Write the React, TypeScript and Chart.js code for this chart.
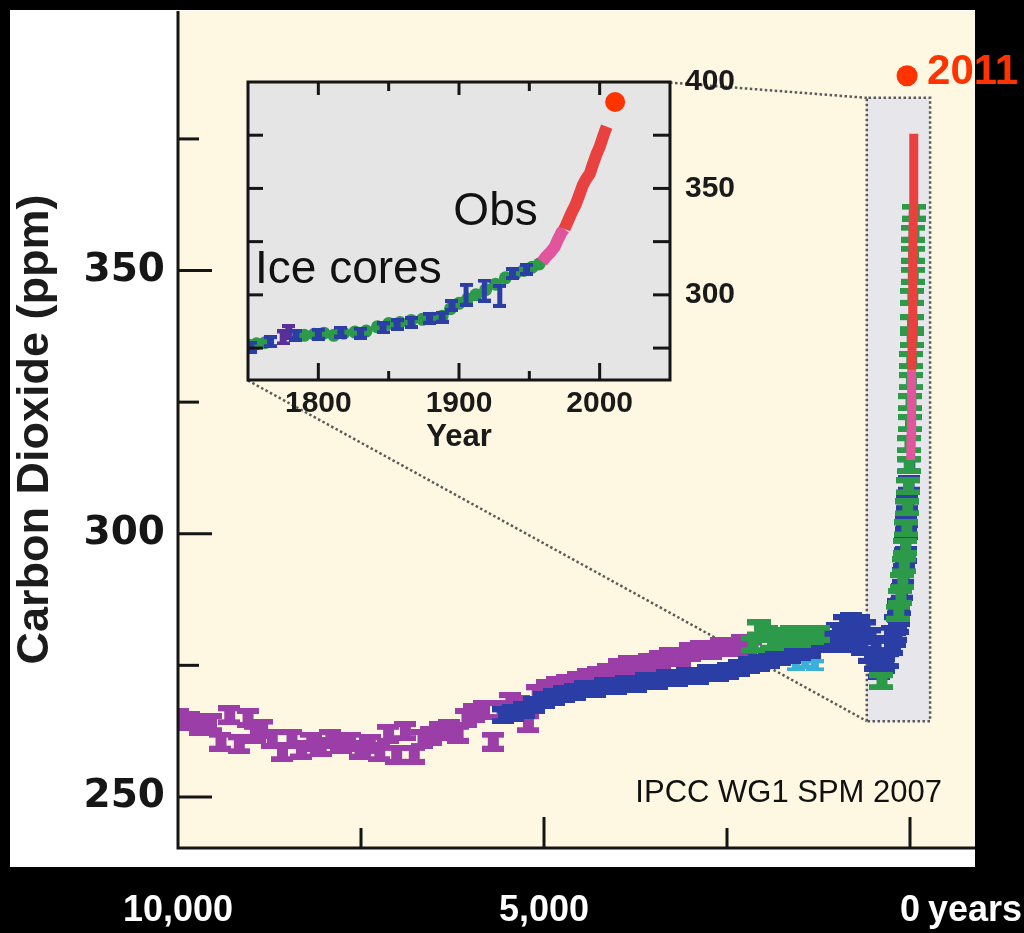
import React, { useEffect, useRef } from 'react';
import { Chart, registerables } from 'chart.js';

Chart.register(...registerables);

const SANS = "'Liberation Sans', Arial, Helvetica, sans-serif";
const HEAVY = "'DejaVu Sans', 'Liberation Sans', sans-serif";

const CREAM = '#fef7e1';
const INSET_BG = '#e5e5e6';
const BOX_BG = '#e7e7eb';
const PURPLE = '#9c3ea8';
const BLUE = '#2a3ea6';
const GREEN = '#2c9a48';
const CYAN = '#3ab0d8';
const RED = '#e8413f';
const PINK = '#e0559b';
const DOT = '#ff3300';
const DOTTED = '#5a5a5a';

// ---------------- main chart: x = years before present, y = CO2 (ppm)
const MAIN_X_MIN = -888;
const MAIN_X_MAX = 10000;
const MAIN_Y_MIN = 240.3;
const MAIN_Y_MAX = 399.3;
const MAIN_X_TICKS = [10000, 7500, 5000, 2500, 0];
const MAIN_X_TICK_TEXT = ['10,000', '', '5,000', '', '0'];
const MAIN_Y_TICKS = [250, 275, 300, 325, 350, 375];
const MAIN_Y_TICK_TEXT = ['250', '', '300', '', '350', ''];

const PURPLE_BP = [10000, 9850, 9700, 9550, 9420, 9300, 9170, 9050, 8950, 8850, 8720, 8580, 8450, 8320, 8180, 8050, 7920, 7780, 7650, 7520, 7380, 7250, 7130, 7020, 6900, 6780, 6660, 6540, 6420, 6300, 6180, 6060, 5950, 5820, 5700, 5580, 5460, 5340, 5220, 5100, 4960, 4820, 4680, 4540, 4400, 4260, 4120, 3980, 3840, 3700, 3560, 3420, 3280, 3140, 3000, 2860, 2720, 2580, 2440, 2300, 2170];
const PURPLE_PPM = [265, 264.5, 263.5, 264, 260.5, 265.5, 260, 265, 262, 263, 261, 258.5, 261, 259, 260.5, 259.5, 261, 260, 260.5, 259, 260, 258.5, 262, 258, 262.5, 258, 261, 261.5, 262.5, 263, 262, 265, 266, 266.5, 260.5, 266.5, 268, 267.5, 264, 269.5, 270.5, 271, 271.5, 272, 272.5, 273, 273.5, 274.5, 275, 275, 275.5, 276, 276.5, 276.5, 277.5, 278, 278, 278.5, 278.5, 279, 278];

const BLUE_BP = [5560, 5420, 5280, 5140, 5000, 4860, 4720, 4580, 4440, 4300, 4160, 4020, 3880, 3740, 3600, 3460, 3320, 3180, 3040, 2900, 2760, 2620, 2480, 2340, 2200, 2060, 1920, 1780, 1640, 1500, 1360, 1220, 1100, 1000, 900, 800, 700, 620, 540, 470, 410, 350, 300, 250, 210, 190, 170, 150, 130, 110, 95, 80, 65, 50, 35, 20, 10];
const BLUE_PPM = [265.5, 266, 266.5, 267.5, 268.5, 269, 269.5, 270, 270.5, 270.5, 271, 271, 271.5, 271.5, 272, 272, 272.5, 272.5, 273, 273, 273.5, 273.5, 274, 274.5, 275, 275.5, 276, 276.5, 277, 277.5, 278, 279, 280, 281.5, 283, 283.5, 283, 282, 280.5, 279, 276, 275, 276, 278.5, 280, 281, 282.5, 284, 286, 289, 292, 295, 298, 302, 306, 309.5, 313];
// second blue core (overlapping the first in the last millennium)
const BLUE2_BP = [1050, 950, 850, 750, 650, 560, 480, 430, 380, 330, 280, 240, 200, 160, 120, 90, 60, 40, 25];
const BLUE2_PPM = [279.5, 279, 280, 279.5, 278.5, 277, 275.5, 274, 274.5, 276, 279, 281, 283, 286, 288.5, 291.5, 296, 300.5, 305];

const GREEN_BP = [2150, 2060, 1970, 1880, 1790, 1700, 1610, 1520, 1430, 1340, 1250, 390, 160, 130, 105, 85, 65, 50, 38, 28, 18, 8, 0, -6, -12, -17, -22, -27, -32, -37, -42, -47, -52];
const GREEN_PPM = [279, 282, 281, 279.5, 280.5, 280, 281, 280, 281, 280.5, 281, 272, 285, 288, 291, 294, 297.5, 301, 305, 309, 313, 317, 321, 325, 329, 333, 337, 340, 345, 349, 353, 357, 361];

const CYAN_BP = [1560, 1430, 1300];
const CYAN_PPM = [275, 275.5, 275];

// atmospheric record as drawn in the main panel
const MAIN_OBS_BP = [-9, -15, -20, -25, -30, -35, -40, -45, -50, -53];
const MAIN_OBS_PPM = [314, 319, 325, 331, 338, 345.5, 353, 360.5, 368, 376];

// zoom box and connector lines (main-chart units)
const BOX_BP = [590, 590, -275, -275, 590];
const BOX_PPM = [264.4, 382.8, 382.8, 264.4, 264.4];
const LINK_TOP_BP = [3278, 590];
const LINK_TOP_PPM = [385.7, 382.8];
const LINK_BOTTOM_BP = [9044, 590];
const LINK_BOTTOM_PPM = [329.1, 264.4];

const MAIN_DOT_BP = [40];
const MAIN_DOT_PPM = [387];
const MAIN_DOT_TEXT = '2011';

// ---------------- inset chart: x = year AD, y = CO2 (ppm)
const INSET_X_MIN = 1750;
const INSET_X_MAX = 2050;
const INSET_Y_MIN = 260;
const INSET_Y_MAX = 400;
const INSET_X_TICKS = [1800, 1850, 1900, 1950, 2000];
const INSET_X_TICK_TEXT = ['1800', '', '1900', '', '2000'];
const INSET_Y_TICKS = [275, 300, 325, 350, 375, 400];
const INSET_Y_TICK_TEXT = ['', '300', '', '350', '', '400'];

const INSET_GREEN_YEAR = [1750, 1756, 1762, 1790, 1797, 1804, 1811, 1818, 1826, 1834, 1842, 1850, 1858, 1866, 1874, 1881, 1888, 1894, 1900, 1906, 1912, 1919, 1926, 1933, 1940, 1946, 1952, 1957];
const INSET_GREEN_PPM = [276.5, 277, 277.5, 281, 281.5, 282, 281, 282, 282.5, 283, 285, 286.5, 287, 288, 288.5, 289, 290, 293.5, 296, 298, 300, 302.5, 305, 308, 310, 311.5, 313, 314.5];
const INSET_BLUE_YEAR = [1752, 1766, 1784, 1800, 1816, 1830, 1846, 1856, 1866, 1879, 1888, 1895, 1938, 1948];
const INSET_BLUE_PPM = [275.5, 278, 281, 281.5, 282.5, 282, 284.5, 286, 287, 289, 289.5, 295, 310, 312];
const INSET_BLUE_BAR_YEAR = [1905, 1918, 1929];
const INSET_BLUE_BAR_PPM = [300, 302, 299.5];
const INSET_PURPLE_YEAR = [1775, 1779];
const INSET_PURPLE_PPM = [280, 282.5];

const OBS_YEAR = [1959, 1962, 1965, 1968, 1970, 1973, 1975, 1978, 1980, 1983, 1985, 1988, 1990, 1993, 1995, 1998, 2000, 2003, 2005];
const OBS_PPM = [315.5, 318, 320, 322.5, 325.5, 329.5, 331, 335.5, 338.5, 342.5, 346, 351.5, 354, 357, 361, 366.5, 369.5, 375.5, 379];
const OBS_PINK_BELOW = 332;

const INSET_DOT_YEAR = [2011];
const INSET_DOT_PPM = [390.6];

const ICE_LABEL = { text: 'Ice cores', year: 1755, ppm: 305.6 };
const OBS_LABEL = { text: 'Obs', year: 1896, ppm: 332.9 };
const CAPTION = 'IPCC WG1 SPM 2007';

const pts = (xs: number[], ys: number[]) => xs.map((x, i) => ({ x, y: ys[i] }));

function iMarker(color: string, w: number, h: number, stem: number, cap: number): HTMLCanvasElement {
  const c = document.createElement('canvas');
  c.width = w;
  c.height = h;
  const g = c.getContext('2d')!;
  g.fillStyle = color;
  g.fillRect(0, 0, w, cap);
  g.fillRect(0, h - cap, w, cap);
  g.fillRect(Math.round((w - stem) / 2), 0, stem, h);
  return c;
}

function tickLine(ctx: CanvasRenderingContext2D, x1: number, y1: number, x2: number, y2: number) {
  ctx.beginPath();
  ctx.moveTo(x1, y1);
  ctx.lineTo(x2, y2);
  ctx.stroke();
}

export default function App() {
  const mainRef = useRef<HTMLCanvasElement | null>(null);
  const insetRef = useRef<HTMLCanvasElement | null>(null);

  useEffect(() => {
    const X_LABEL_PAD = 41;
    const X_LABEL_SIZE = 36;

    const mainDecor = {
      id: 'mainDecor',
      beforeDraw(chart: any) {
        const { ctx, chartArea: a } = chart;
        ctx.save();
        ctx.fillStyle = '#000';
        ctx.fillRect(0, 0, chart.width, chart.height);
        ctx.fillStyle = '#ffffff';
        ctx.fillRect(10, 10, a.right - 10, a.bottom + 19 - 10);
        ctx.fillStyle = CREAM;
        ctx.fillRect(a.left, a.top, a.right - a.left, a.bottom - a.top);
        ctx.restore();
      },
      afterDatasetsDraw(chart: any) {
        const { ctx, chartArea: a } = chart;
        const xs = chart.scales.x;
        const ys = chart.scales.y;
        ctx.save();
        ctx.strokeStyle = '#151515';
        ctx.lineWidth = 3;
        ctx.beginPath();
        ctx.moveTo(a.left, a.top);
        ctx.lineTo(a.left, a.bottom);
        ctx.lineTo(a.right, a.bottom);
        ctx.stroke();
        MAIN_Y_TICKS.forEach((v, i) => {
          const py = ys.getPixelForValue(v);
          tickLine(ctx, a.left, py, a.left + (MAIN_Y_TICK_TEXT[i] ? 34 : 21), py);
        });
        MAIN_X_TICKS.forEach((v, i) => {
          if (v === MAIN_X_MAX) return;
          const px = xs.getPixelForValue(v);
          tickLine(ctx, px, a.bottom, px, a.bottom - (MAIN_X_TICK_TEXT[i] ? 31 : 20));
        });
        // "years" after the 0 label
        ctx.fillStyle = '#ffffff';
        ctx.font = `bold ${X_LABEL_SIZE}px ${SANS}`;
        ctx.textBaseline = 'middle';
        ctx.textAlign = 'left';
        const zx = xs.getPixelForValue(0);
        const zw = ctx.measureText('0').width;
        ctx.fillText('years', zx + zw / 2 + 8, xs.top + X_LABEL_PAD + (X_LABEL_SIZE * 1.2) / 2);
        // 2011 label next to dot
        const p = chart.getDatasetMeta(0).data[0];
        ctx.fillStyle = DOT;
        ctx.font = `bold 42px ${SANS}`;
        ctx.textBaseline = 'alphabetic';
        ctx.fillText(MAIN_DOT_TEXT, p.x + 20, p.y + 8);
        // caption
        ctx.fillStyle = '#111';
        ctx.font = `31px ${SANS}`;
        ctx.textAlign = 'right';
        ctx.fillText(CAPTION, a.right - 33, a.bottom - 46);
        ctx.restore();
      },
    };

    const mk = {
      purple: iMarker(PURPLE, 22, 20, 11, 6),
      blue: iMarker(BLUE, 22, 18, 11, 6),
      green: iMarker(GREEN, 24, 18, 11, 6),
      cyan: iMarker(CYAN, 18, 12, 8, 4),
      iblue: iMarker(BLUE, 13, 13, 7, 4),
      ibar: iMarker(BLUE, 13, 24, 5, 4),
      ipurple: iMarker('#5a2f9a', 13, 16, 7, 4),
    };

    const mainChart = new Chart(mainRef.current!, {
      type: 'scatter',
      data: {
        datasets: [
          {
            data: pts(MAIN_DOT_BP, MAIN_DOT_PPM),
            pointStyle: 'circle',
            pointRadius: 10.5,
            backgroundColor: DOT,
            borderWidth: 0,
            order: 0,
          } as any,
          {
            type: 'line',
            data: pts(MAIN_OBS_BP, MAIN_OBS_PPM),
            borderWidth: 9,
            borderColor: RED,
            pointRadius: 0,
            borderCapStyle: 'butt',
            segment: {
              borderColor: (c: any) => (c.p1.parsed.y <= OBS_PINK_BELOW ? PINK : RED),
            },
            order: 1,
          } as any,
          { data: pts(GREEN_BP, GREEN_PPM), pointStyle: mk.green, pointRadius: 10, order: 2 } as any,
          { data: pts(BLUE_BP, BLUE_PPM), pointStyle: mk.blue, pointRadius: 10, order: 3 } as any,
          { data: pts(BLUE2_BP, BLUE2_PPM), pointStyle: mk.blue, pointRadius: 10, order: 3 } as any,
          { data: pts(CYAN_BP, CYAN_PPM), pointStyle: mk.cyan, pointRadius: 8, order: 4 } as any,
          { data: pts(PURPLE_BP, PURPLE_PPM), pointStyle: mk.purple, pointRadius: 10, order: 5 } as any,
          {
            type: 'line',
            data: pts(LINK_TOP_BP, LINK_TOP_PPM),
            borderColor: DOTTED,
            borderWidth: 2.5,
            borderDash: [2.5, 2.5],
            pointRadius: 0,
            order: 8,
          } as any,
          {
            type: 'line',
            data: pts(LINK_BOTTOM_BP, LINK_BOTTOM_PPM),
            borderColor: DOTTED,
            borderWidth: 2.5,
            borderDash: [2.5, 2.5],
            pointRadius: 0,
            order: 8,
          } as any,
          {
            type: 'line',
            data: pts(BOX_BP, BOX_PPM),
            borderColor: DOTTED,
            borderWidth: 2.5,
            borderDash: [2.5, 2.5],
            backgroundColor: BOX_BG,
            fill: 'shape',
            pointRadius: 0,
            tension: 0,
            order: 9,
          } as any,
        ],
      },
      options: {
        responsive: false,
        animation: false,
        events: [],
        layout: { padding: { left: 10, top: 10, right: 49, bottom: 0 } },
        plugins: { legend: { display: false }, tooltip: { enabled: false } },
        scales: {
          x: {
            type: 'linear',
            reverse: true,
            min: MAIN_X_MIN,
            max: MAIN_X_MAX,
            afterBuildTicks: (s: any) => {
              s.ticks = MAIN_X_TICKS.map((v) => ({ value: v }));
            },
            afterFit: (s: any) => {
              s.height = 85;
              s.paddingLeft = 0;
              s.paddingRight = 0;
            },
            grid: { display: false, drawTicks: false },
            border: { display: false },
            ticks: {
              color: '#ffffff',
              font: { family: SANS, size: X_LABEL_SIZE, weight: 'bold' },
              padding: X_LABEL_PAD,
              maxRotation: 0,
              autoSkip: false,
              callback: (v: any) => MAIN_X_TICK_TEXT[MAIN_X_TICKS.indexOf(Number(v))] ?? '',
            },
          },
          y: {
            type: 'linear',
            min: MAIN_Y_MIN,
            max: MAIN_Y_MAX,
            afterBuildTicks: (s: any) => {
              s.ticks = MAIN_Y_TICKS.map((v) => ({ value: v }));
            },
            afterFit: (s: any) => {
              s.width = 168;
              s.paddingTop = 0;
              s.paddingBottom = 0;
            },
            grid: { display: false, drawTicks: false },
            border: { display: false },
            ticks: {
              color: '#161616',
              font: { family: HEAVY, size: 39, weight: 'bold' },
              padding: 13,
              autoSkip: false,
              callback: (v: any) => MAIN_Y_TICK_TEXT[MAIN_Y_TICKS.indexOf(Number(v))] ?? '',
            },
            title: {
              display: true,
              text: 'Carbon Dioxide (ppm)',
              color: '#1c1c1c',
              font: { family: SANS, size: 45, weight: 'bold', lineHeight: 1.15 },
              padding: 0,
            },
          },
        },
      } as any,
      plugins: [mainDecor],
    });

    const insetDecor = {
      id: 'insetDecor',
      beforeDraw(chart: any) {
        const { ctx, chartArea: a } = chart;
        ctx.save();
        ctx.fillStyle = INSET_BG;
        ctx.fillRect(a.left, a.top, a.right - a.left, a.bottom - a.top);
        ctx.restore();
      },
      afterDatasetsDraw(chart: any) {
        const { ctx, chartArea: a } = chart;
        const xs = chart.scales.x;
        const ys = chart.scales.y;
        ctx.save();
        ctx.strokeStyle = '#151515';
        ctx.lineWidth = 3;
        ctx.strokeRect(a.left, a.top, a.right - a.left, a.bottom - a.top);
        INSET_Y_TICKS.forEach((v) => {
          if (v === INSET_Y_MAX) return;
          const py = ys.getPixelForValue(v);
          tickLine(ctx, a.left, py, a.left + 15, py);
          tickLine(ctx, a.right, py, a.right - 17, py);
        });
        INSET_X_TICKS.forEach((v, i) => {
          const px = xs.getPixelForValue(v);
          const major = !!INSET_X_TICK_TEXT[i];
          tickLine(ctx, px, a.bottom, px, a.bottom - (major ? 17 : 9));
          tickLine(ctx, px, a.top, px, a.top + (major ? 13 : 9));
        });
        ctx.fillStyle = '#111';
        ctx.font = `46px ${SANS}`;
        ctx.textAlign = 'left';
        ctx.textBaseline = 'alphabetic';
        [ICE_LABEL, OBS_LABEL].forEach((l) => {
          ctx.fillText(l.text, xs.getPixelForValue(l.year), ys.getPixelForValue(l.ppm));
        });
        ctx.restore();
      },
    };

    const insetChart = new Chart(insetRef.current!, {
      type: 'scatter',
      data: {
        datasets: [
          {
            data: pts(INSET_DOT_YEAR, INSET_DOT_PPM),
            pointStyle: 'circle',
            pointRadius: 10,
            backgroundColor: DOT,
            borderWidth: 0,
            order: 0,
          } as any,
          {
            type: 'line',
            data: pts(OBS_YEAR, OBS_PPM),
            borderWidth: 12,
            borderColor: RED,
            pointRadius: 0,
            borderCapStyle: 'butt',
            segment: {
              borderColor: (c: any) => (c.p1.parsed.y <= OBS_PINK_BELOW ? PINK : RED),
            },
            order: 1,
          } as any,
          { data: pts(INSET_BLUE_YEAR, INSET_BLUE_PPM), pointStyle: mk.iblue, pointRadius: 7, order: 2 } as any,
          { data: pts(INSET_BLUE_BAR_YEAR, INSET_BLUE_BAR_PPM), pointStyle: mk.ibar, pointRadius: 7, order: 2 } as any,
          { data: pts(INSET_PURPLE_YEAR, INSET_PURPLE_PPM), pointStyle: mk.ipurple, pointRadius: 7, order: 3 } as any,
          {
            data: pts(INSET_GREEN_YEAR, INSET_GREEN_PPM),
            pointStyle: 'circle',
            pointRadius: 6.5,
            backgroundColor: GREEN,
            borderWidth: 0,
            order: 4,
          } as any,
        ],
      },
      options: {
        responsive: false,
        animation: false,
        events: [],
        layout: { padding: { left: 10, top: 22, right: 18, bottom: 4 } },
        plugins: { legend: { display: false }, tooltip: { enabled: false } },
        scales: {
          x: {
            type: 'linear',
            min: INSET_X_MIN,
            max: INSET_X_MAX,
            afterBuildTicks: (s: any) => {
              s.ticks = INSET_X_TICKS.map((v) => ({ value: v }));
            },
            afterFit: (s: any) => {
              s.height = 76;
              s.paddingLeft = 0;
              s.paddingRight = 0;
            },
            grid: { display: false, drawTicks: false },
            border: { display: false },
            ticks: {
              color: '#1a1a1a',
              font: { family: SANS, size: 30, weight: 'bold' },
              padding: 6,
              maxRotation: 0,
              autoSkip: false,
              callback: (v: any) => INSET_X_TICK_TEXT[INSET_X_TICKS.indexOf(Number(v))] ?? '',
            },
            title: {
              display: true,
              text: 'Year',
              color: '#1a1a1a',
              font: { family: SANS, size: 31, weight: 'bold' },
              padding: 0,
            },
          },
          y: {
            type: 'linear',
            position: 'right',
            min: INSET_Y_MIN,
            max: INSET_Y_MAX,
            afterBuildTicks: (s: any) => {
              s.ticks = INSET_Y_TICKS.map((v) => ({ value: v }));
            },
            afterFit: (s: any) => {
              s.width = 70;
              s.paddingTop = 0;
              s.paddingBottom = 0;
            },
            grid: { display: false, drawTicks: false },
            border: { display: false },
            ticks: {
              color: '#1a1a1a',
              font: { family: SANS, size: 30, weight: 'bold' },
              padding: 15,
              autoSkip: false,
              callback: (v: any) => INSET_Y_TICK_TEXT[INSET_Y_TICKS.indexOf(Number(v))] ?? '',
            },
          },
        },
      } as any,
      plugins: [insetDecor],
    });

    return () => {
      mainChart.destroy();
      insetChart.destroy();
    };
  }, []);

  return (
    <div
      style={{
        position: 'fixed',
        left: 0,
        top: 0,
        width: 1024,
        height: 933,
        background: '#000',
        overflow: 'hidden',
      }}
    >
      <canvas
        ref={mainRef}
        width={1024}
        height={933}
        style={{ position: 'absolute', left: 0, top: 0, width: 1024, height: 933 }}
      />
      <canvas
        ref={insetRef}
        width={520}
        height={400}
        style={{ position: 'absolute', left: 238, top: 60, width: 520, height: 400 }}
      />
    </div>
  );
}
